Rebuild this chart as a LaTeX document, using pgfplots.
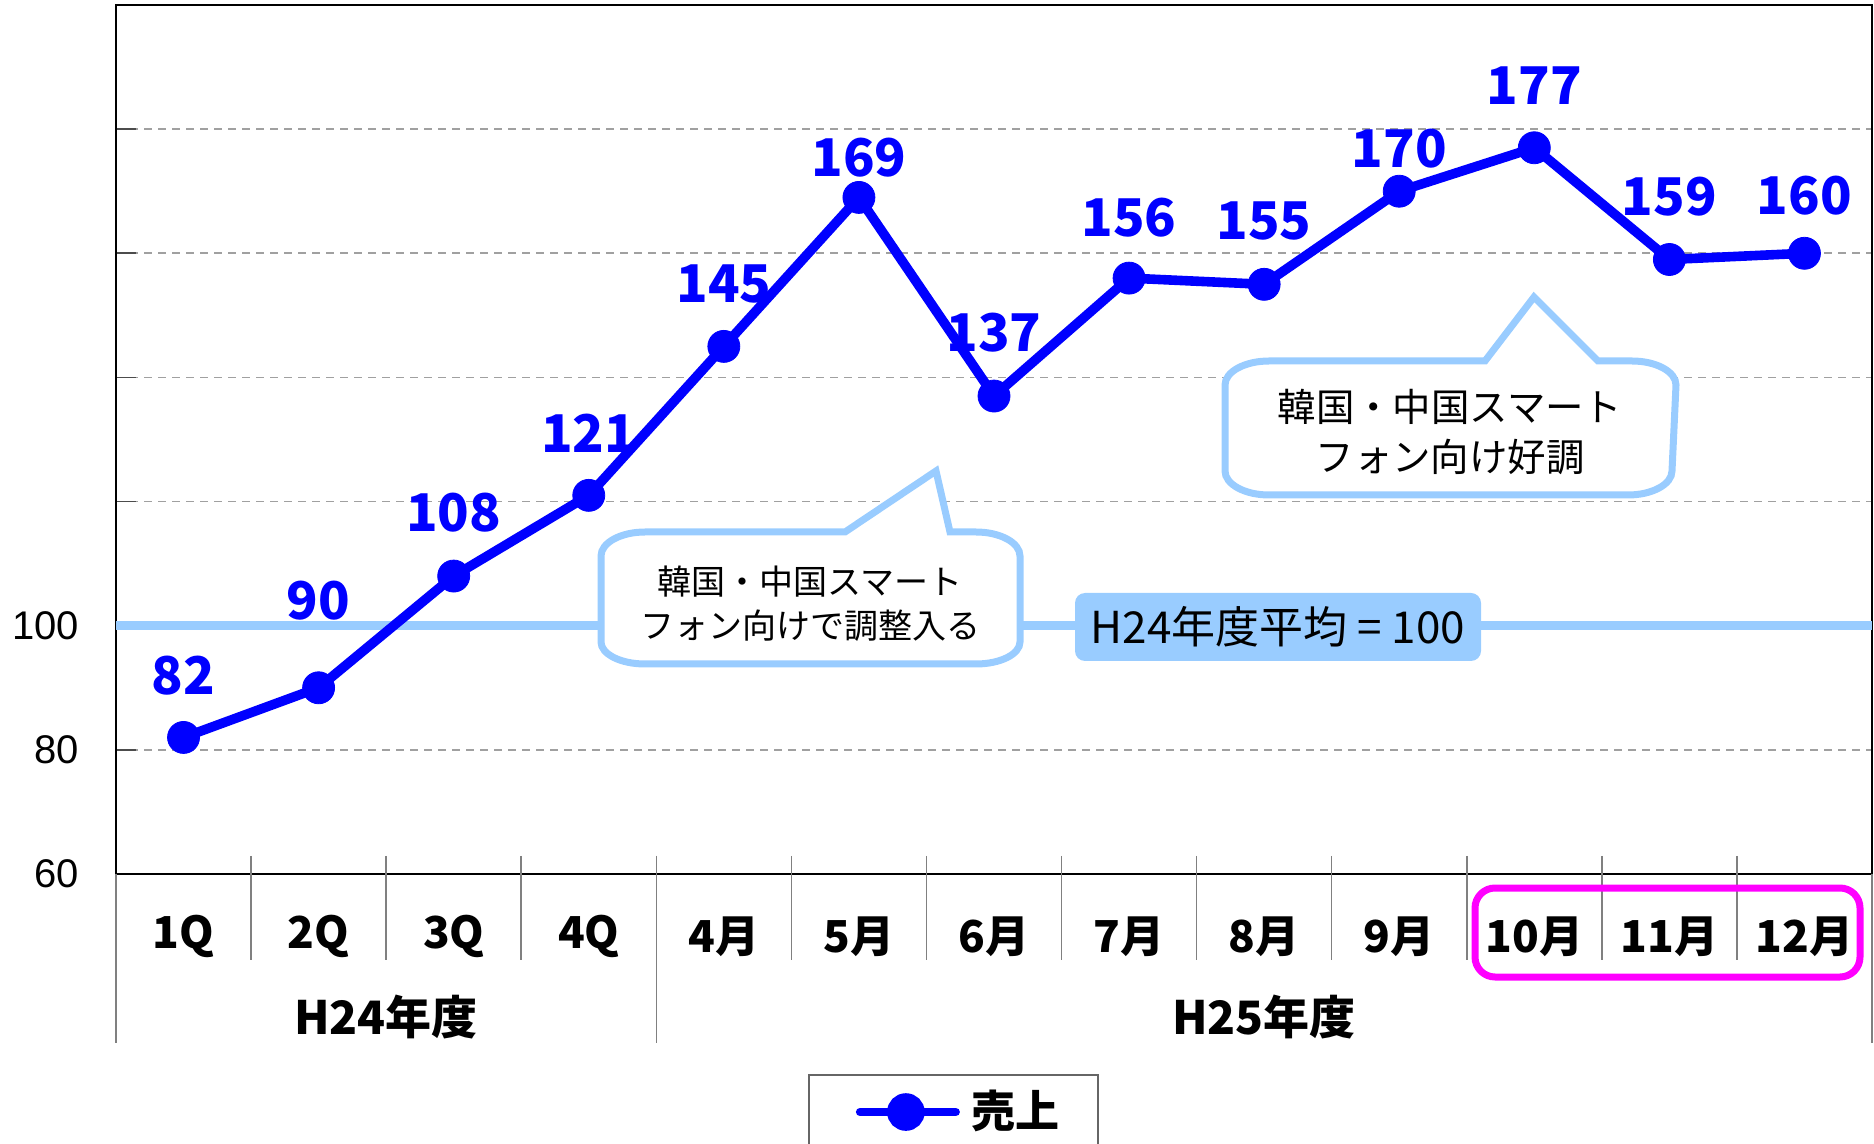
\documentclass[border=0pt]{standalone}
\usepackage{fontspec}
\setmainfont{Noto Sans CJK JP}
\newfontfamily\lib{Liberation Sans}
\usepackage{pgfplots}
\usepackage{pgfplotstable}
\pgfplotsset{compat=1.18}
\definecolor{lb}{HTML}{99CCFF}
\definecolor{gridgray}{HTML}{A0A0A0}
\definecolor{sepgray}{HTML}{808080}
\definecolor{mag}{HTML}{FF00FF}

\pgfplotstableread{
x y dy
0 82 15.5
1 90 21.8
2 108 15.8
3 121 15.5
4 145 15.5
5 169 9.9
6 137 15.8
7 156 15.2
8 155 15.8
9 170 10.75
10 177 15.5
11 159 15.8
12 160 14.3
}\sales

\begin{document}
\begin{tikzpicture}
\path[use as bounding box] (-29bp,-67.5bp) rectangle (439.5bp,218.5bp);
\clip (-29bp,-67.5bp) rectangle (439.5bp,218.5bp);
\begin{axis}[
  at={(0,0)}, anchor=south west,
  scale only axis, width=439bp, height=217.25bp,
  xmin=-0.5, xmax=12.5, ymin=60, ymax=200,
  xtick={0,...,12},
  xticklabels={1Q,2Q,3Q,4Q,4月,5月,6月,7月,8月,9月,10月,11月,12月},
  xticklabel style={anchor=center, yshift=-15.6bp, inner sep=0pt,
     font=\bfseries\fontsize{11bp}{11bp}\selectfont},
  major x tick style={draw=none},
  ytick={60,80,...,180}, yticklabels={60,80,100,,,,},
  ymajorgrids,
  major grid style={gridgray, line width=0.4bp, dash pattern=on 2bp off 1.5bp},
  ytick pos=left, tick align=inside, major tick length=5bp,
  y tick style={black!70, line width=0.4bp},
  yticklabel style={font=\lib\fontsize{10bp}{10bp}\selectfont, inner sep=0pt, xshift=-9bp},
  /pgf/number format/assume math mode=true,
  axis line style={black, line width=0.5bp},
  legend style={at={(0.3947,-0.2739)}, anchor=west, draw=none, fill=none,
     inner xsep=11.5bp, inner ysep=0pt, column sep=3bp,
     font=\bfseries\fontsize{11bp}{11bp}\selectfont, nodes={inner sep=0pt}},
  legend image code/.code={\draw[blue, line width=2bp, line cap=round] (0bp,0bp) -- (24bp,0bp);
     \fill[blue] (11.5bp,0bp) circle (3.5bp);},
]
\addplot[lb, line width=2.3bp, forget plot] coordinates {(-0.5,100) (12.5,100)};
\addplot[blue, line width=2.4bp, mark=*, mark size=4bp,
   mark options={fill=blue, draw=blue, line width=0.2bp},
   visualization depends on={\thisrow{dy}\as\dyval},
   nodes near coords,
   every node near coord/.append style={font=\bfseries\fontsize{13bp}{13bp}\selectfont,
      text=blue, anchor=center, yshift=\dyval bp}]
 table[x=x, y=y] {\sales};
\addlegendentry{売上}
\end{axis}
% category separators
\foreach \k in {1,...,12} {
  \draw[sepgray, line width=0.4bp] ({\k*33.769bp},4.5bp) -- ({\k*33.769bp},-21.5bp);
}
\draw[sepgray, line width=0.4bp] (0bp,0bp) -- (0bp,-42.25bp);
\draw[sepgray, line width=0.4bp] (135.08bp,4.5bp) -- (135.08bp,-42.25bp);
\draw[sepgray, line width=0.4bp] (439bp,0bp) -- (439bp,-42.25bp);
\node[font=\bfseries\fontsize{11.5bp}{11.5bp}\selectfont] at (67.54bp,-35.75bp) {H24年度};
\node[font=\bfseries\fontsize{11.5bp}{11.5bp}\selectfont] at (287.04bp,-35.75bp) {H25年度};
% highlight box
\draw[mag, line width=1.75bp, rounded corners=5bp] (339.75bp,-3.5bp) rectangle (436bp,-25.75bp);
% legend frame
\draw[black!60, line width=0.5bp] (173.25bp,-50.25bp) rectangle (245.5bp,-90bp);
% average label
\fill[lb, rounded corners=2.5bp] (239.75bp,53.25bp) rectangle (341.25bp,70.25bp);
\node[font=\fontsize{11bp}{11bp}\selectfont] at (290.5bp,61.75bp) {H24年度平均 = 100};
% callout 1
\draw[lb, line width=1.75bp, fill=white, line join=miter]
  (205bp,100.75bp) -- (208.5bp,85.5bp) -- (215bp,85.5bp)
  arc[start angle=90, end angle=0, x radius=11bp, y radius=6bp]
  -- (226bp,58bp)
  arc[start angle=0, end angle=-90, x radius=11bp, y radius=5.5bp]
  -- (132.25bp,52.5bp)
  arc[start angle=270, end angle=180, x radius=11bp, y radius=5.5bp]
  -- (121.25bp,79.5bp)
  arc[start angle=180, end angle=90, x radius=11bp, y radius=6bp]
  -- (182.25bp,85.5bp) -- cycle;
\node[align=center, font=\fontsize{8.5bp}{11bp}\selectfont] at (173.5bp,67.5bp)
  {韓国・中国スマート\\フォン向けで調整入る};
% callout 2
\draw[lb, line width=1.75bp, fill=white, line join=miter]
  (354.5bp,144.25bp) -- (370.5bp,128.25bp) -- (379bp,128.25bp)
  arc[start angle=90, end angle=0, x radius=11bp, y radius=6bp]
  -- (389bp,100.75bp)
  arc[start angle=0, end angle=-90, x radius=11bp, y radius=6bp]
  -- (288.25bp,94.75bp)
  arc[start angle=270, end angle=180, x radius=11bp, y radius=6bp]
  -- (277.25bp,122.25bp)
  arc[start angle=180, end angle=90, x radius=11bp, y radius=6bp]
  -- (342.25bp,128.25bp) -- cycle;
\node[align=center, font=\fontsize{9.6bp}{12.5bp}\selectfont] at (333.5bp,110.5bp)
  {韓国・中国スマート\\フォン向け好調};
\end{tikzpicture}
\end{document}
